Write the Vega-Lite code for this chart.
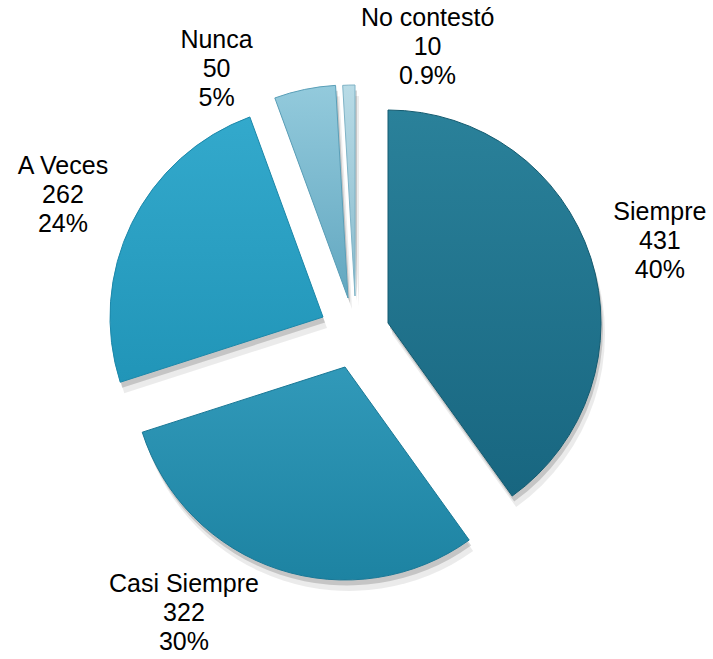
{
  "$schema": "https://vega.github.io/schema/vega-lite/v6.json",
  "width": 713,
  "height": 659,
  "autosize": "none",
  "padding": 0,
  "background": "white",
  "config": {"view": {"stroke": null}},
  "data": {
    "values": [
      {"cat": "Siempre", "n": 431, "label": "Siempre\n431\n40%"},
      {"cat": "Casi Siempre", "n": 322, "label": "Casi Siempre\n322\n30%"},
      {"cat": "A Veces", "n": 262, "label": "A Veces\n262\n24%"},
      {"cat": "Nunca", "n": 50, "label": "Nunca\n50\n5%"},
      {"cat": "No contestó", "n": 10, "label": "No contestó\n10\n0.9%"}
    ]
  },
  "transform": [
    {"window": [{"op": "row_number", "as": "idx"}]},
    {"stack": "n", "groupby": [], "sort": [{"field": "idx", "order": "ascending"}], "as": ["s0", "s1"]}
  ],
  "layer": [
    {
      "transform": [{"filter": "datum.cat === 'Siempre'"}],
      "encoding": {"theta": {"field": "s0", "type": "quantitative"}, "theta2": {"field": "s1"}},
      "layer": [
        {"mark": {"type": "arc", "radius": 213, "xOffset": 35.5, "yOffset": 4.5, "fill": "#000", "fillOpacity": 0.08}},
        {"mark": {"type": "arc", "radius": 213, "xOffset": 33.5, "yOffset": -1, "fill": "#000", "fillOpacity": 0.16}},
        {"mark": {"type": "arc", "radius": 213, "xOffset": 31.5, "yOffset": -6.5, "stroke": "#145b70", "strokeWidth": 1,
          "fill": {"gradient": "linear", "x1": 0, "y1": 0, "x2": 0, "y2": 1, "stops": [{"offset": 0, "color": "#2a819a"}, {"offset": 1, "color": "#186680"}]}}}
      ]
    },
    {
      "transform": [{"filter": "datum.cat === 'Casi Siempre'"}],
      "encoding": {"theta": {"field": "s0", "type": "quantitative"}, "theta2": {"field": "s1"}},
      "layer": [
        {"mark": {"type": "arc", "radius": 213, "xOffset": -7.5, "yOffset": 48.5, "fill": "#000", "fillOpacity": 0.08}},
        {"mark": {"type": "arc", "radius": 213, "xOffset": -9.5, "yOffset": 43, "fill": "#000", "fillOpacity": 0.16}},
        {"mark": {"type": "arc", "radius": 213, "xOffset": -11.5, "yOffset": 37.5, "stroke": "#1a7896", "strokeWidth": 1,
          "fill": {"gradient": "linear", "x1": 0, "y1": 0, "x2": 0, "y2": 1, "stops": [{"offset": 0, "color": "#3199b9"}, {"offset": 1, "color": "#1d83a2"}]}}}
      ]
    },
    {
      "transform": [{"filter": "datum.cat === 'A Veces'"}],
      "encoding": {"theta": {"field": "s0", "type": "quantitative"}, "theta2": {"field": "s1"}},
      "layer": [
        {"mark": {"type": "arc", "radius": 213, "xOffset": -29.5, "yOffset": -1.5, "fill": "#000", "fillOpacity": 0.08}},
        {"mark": {"type": "arc", "radius": 213, "xOffset": -31.5, "yOffset": -7, "fill": "#000", "fillOpacity": 0.16}},
        {"mark": {"type": "arc", "radius": 213, "xOffset": -33.5, "yOffset": -12.5, "stroke": "#1c88aa", "strokeWidth": 1,
          "fill": {"gradient": "linear", "x1": 0, "y1": 0, "x2": 0, "y2": 1, "stops": [{"offset": 0, "color": "#33a9cc"}, {"offset": 1, "color": "#2195b8"}]}}}
      ]
    },
    {
      "transform": [{"filter": "datum.cat === 'Nunca'"}],
      "encoding": {"theta": {"field": "s0", "type": "quantitative"}, "theta2": {"field": "s1"}},
      "layer": [
        {"mark": {"type": "arc", "radius": 213, "xOffset": -4.5, "yOffset": -20.5, "fill": "#000", "fillOpacity": 0.08}},
        {"mark": {"type": "arc", "radius": 213, "xOffset": -6.5, "yOffset": -26, "fill": "#000", "fillOpacity": 0.16}},
        {"mark": {"type": "arc", "radius": 213, "xOffset": -8.5, "yOffset": -31.5, "stroke": "#5a9fb8", "strokeWidth": 1,
          "fill": {"gradient": "linear", "x1": 0, "y1": 0, "x2": 0, "y2": 1, "stops": [{"offset": 0, "color": "#93cadc"}, {"offset": 1, "color": "#62a7c0"}]}}}
      ]
    },
    {
      "transform": [{"filter": "datum.cat === 'No contestó'"}],
      "encoding": {"theta": {"field": "s0", "type": "quantitative"}, "theta2": {"field": "s1"}},
      "layer": [
        {"mark": {"type": "arc", "radius": 211, "xOffset": 2.5, "yOffset": -22.5, "fill": "#000", "fillOpacity": 0.08}},
        {"mark": {"type": "arc", "radius": 211, "xOffset": 0.5, "yOffset": -28, "fill": "#000", "fillOpacity": 0.16}},
        {"mark": {"type": "arc", "radius": 211, "xOffset": -1.5, "yOffset": -33.5, "stroke": "#7fb3c6", "strokeWidth": 1,
          "fill": {"gradient": "linear", "x1": 0, "y1": 0, "x2": 0, "y2": 1, "stops": [{"offset": 0, "color": "#b8dbe6"}, {"offset": 1, "color": "#88bbcd"}]}}}
      ]
    },
    {
      "mark": {"type": "text", "radius": 305, "dx": 13, "dy": -24, "fontSize": 25, "font": "Liberation Sans", "lineBreak": "\n", "lineHeight": 29, "align": "center", "baseline": "middle", "color": "#000000"},
      "encoding": {
        "theta": {"field": "n", "type": "quantitative", "stack": true},
        "order": {"field": "idx", "type": "quantitative"},
        "detail": {"field": "cat", "type": "nominal"},
        "text": {"condition": {"test": "datum.cat === 'Siempre'", "field": "label", "type": "nominal"}, "value": ""}
      }
    },
    {
      "mark": {"type": "text", "radius": 305, "dx": -77, "dy": -35, "fontSize": 25, "font": "Liberation Sans", "lineBreak": "\n", "lineHeight": 29, "align": "center", "baseline": "middle", "color": "#000000"},
      "encoding": {
        "theta": {"field": "n", "type": "quantitative", "stack": true},
        "order": {"field": "idx", "type": "quantitative"},
        "detail": {"field": "cat", "type": "nominal"},
        "text": {"condition": {"test": "datum.cat === 'Casi Siempre'", "field": "label", "type": "nominal"}, "value": ""}
      }
    },
    {
      "mark": {"type": "text", "radius": 305, "dx": -19.5, "dy": -30, "fontSize": 25, "font": "Liberation Sans", "lineBreak": "\n", "lineHeight": 29, "align": "center", "baseline": "middle", "color": "#000000"},
      "encoding": {
        "theta": {"field": "n", "type": "quantitative", "stack": true},
        "order": {"field": "idx", "type": "quantitative"},
        "detail": {"field": "cat", "type": "nominal"},
        "text": {"condition": {"test": "datum.cat === 'A Veces'", "field": "label", "type": "nominal"}, "value": ""}
      }
    },
    {
      "mark": {"type": "text", "radius": 305, "dx": -78, "dy": 9, "fontSize": 25, "font": "Liberation Sans", "lineBreak": "\n", "lineHeight": 29, "align": "center", "baseline": "middle", "color": "#000000"},
      "encoding": {
        "theta": {"field": "n", "type": "quantitative", "stack": true},
        "order": {"field": "idx", "type": "quantitative"},
        "detail": {"field": "cat", "type": "nominal"},
        "text": {"condition": {"test": "datum.cat === 'Nunca'", "field": "label", "type": "nominal"}, "value": ""}
      }
    },
    {
      "mark": {"type": "text", "radius": 305, "dx": 80, "dy": -7, "fontSize": 25, "font": "Liberation Sans", "lineBreak": "\n", "lineHeight": 29, "align": "center", "baseline": "middle", "color": "#000000"},
      "encoding": {
        "theta": {"field": "n", "type": "quantitative", "stack": true},
        "order": {"field": "idx", "type": "quantitative"},
        "detail": {"field": "cat", "type": "nominal"},
        "text": {"condition": {"test": "datum.cat === 'No contestó'", "field": "label", "type": "nominal"}, "value": ""}
      }
    }
  ]
}
